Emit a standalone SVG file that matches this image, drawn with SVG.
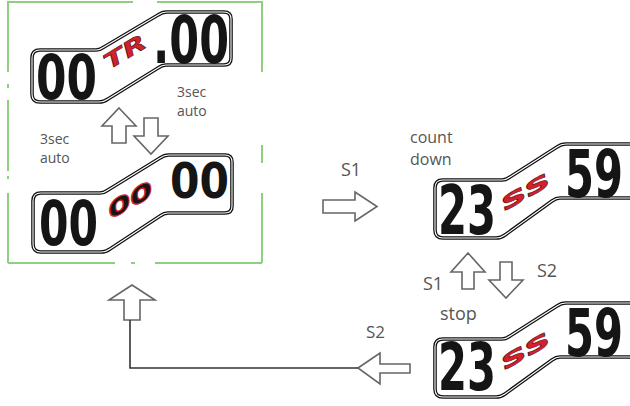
<svg xmlns="http://www.w3.org/2000/svg" width="630" height="406" viewBox="0 0 630 406">
<style>
.frame{stroke:#8fd07f;stroke-width:2;fill:none}
.lcdo{fill:#fff;stroke:#111;stroke-width:3.6;stroke-linejoin:round}
.lcdi{fill:none;stroke:#fff;stroke-width:1.1;stroke-linejoin:round}
.dig{font-family:"DejaVu Sans",sans-serif;font-weight:bold;fill:#151515}
.red{font-family:"DejaVu Sans",sans-serif;font-weight:bold;font-style:italic;fill:#d4202c;stroke:#3a0a0e;stroke-width:0.5}
.redo{font-family:"DejaVu Sans",sans-serif;font-weight:bold;fill:#161616;stroke:#d4202c;stroke-width:1.1}
.arr{fill:#fff;stroke:#666;stroke-width:1.6;stroke-linejoin:miter}
.lbl{font-family:"Open Sans",sans-serif;fill:#555}
.line{fill:none;stroke:#333;stroke-width:1.6}
</style>
<defs>
<path id="lcdC" d="M435,188 Q435,180 443,180 L502,180 Q506,180 510,177 L557,147 Q561,144 566,144 L640,144 L640,198 L560,198 Q556,198 552,201 L505,235 Q501,238 496,238 L443,238 Q435,238 435,230 Z"/>
</defs>
<g id="frame">
<path class="frame" d="M8,2 H133 M157,2 H262 M8,1 V72 M8,84 V88 M8,100 V171 M8,176 V179 M8,193 V263 M262,1 V72 M262,145 V163 M262,193 V263 M8,263 H115 M131,263 H135 M155,263 H262"/>
</g>
<g id="display-tr">
<path class="lcdo" d="M32,58 Q32,50 40,50 L96,50 Q100,50 104,47 L158,15 Q162,12 167,12 L224,12 Q231,12 231,19 L231,58 Q231,65 224,65 L166,65 Q162,65 158,68 L108,99 Q104,102 99,102 L40,102 Q32,102 32,94 Z"/>
<path class="lcdi" d="M32,58 Q32,50 40,50 L96,50 Q100,50 104,47 L158,15 Q162,12 167,12 L224,12 Q231,12 231,19 L231,58 Q231,65 224,65 L166,65 Q162,65 158,68 L108,99 Q104,102 99,102 L40,102 Q32,102 32,94 Z"/>
<text class="dig" font-size="62" transform="translate(36,99) scale(0.707,1)">00</text>
<text class="dig" font-size="66" transform="translate(153,63) scale(0.65,1)">.00</text>
<text class="red" x="109" y="70" font-size="21" textLength="46" lengthAdjust="spacingAndGlyphs" transform="rotate(-31 109 70)">TR</text>
</g>
<g id="display-oo">
<path class="lcdo" d="M33,201 Q33,193 41,193 L100,193 Q104,193 108,190 L160,158 Q164,155 169,155 L225,155 Q232,155 232,162 L232,206 Q232,213 225,213 L168,213 Q164,213 160,216 L110,249 Q106,252 101,252 L41,252 Q33,252 33,244 Z"/>
<path class="lcdi" d="M33,201 Q33,193 41,193 L100,193 Q104,193 108,190 L160,158 Q164,155 169,155 L225,155 Q232,155 232,162 L232,206 Q232,213 225,213 L168,213 Q164,213 160,216 L110,249 Q106,252 101,252 L41,252 Q33,252 33,244 Z"/>
<text class="dig" font-size="62" transform="translate(39,245) scale(0.684,1)">00</text>
<text class="dig" font-size="50" transform="translate(170,198) scale(0.848,1)">00</text>
<text class="redo" font-size="28" textLength="50" lengthAdjust="spacingAndGlyphs" transform="translate(109,220) rotate(-29) skewX(-25)">oo</text>
</g>
<g id="display-countdown">
<use href="#lcdC" class="lcdo"/>
<use href="#lcdC" class="lcdi"/>
<text class="dig" font-size="68" transform="translate(438,234) scale(0.613,1)">23</text>
<text class="dig" font-size="66" transform="translate(565,197) scale(0.631,1)">59</text>
<text class="red" x="505" y="211" font-size="24" textLength="54" lengthAdjust="spacingAndGlyphs" transform="rotate(-30 505 211)">ss</text>
</g>
<g id="display-stop">
<use href="#lcdC" class="lcdo" transform="translate(0,159)"/>
<use href="#lcdC" class="lcdi" transform="translate(0,159)"/>
<text class="dig" font-size="66" transform="translate(438,390) scale(0.631,1)">23</text>
<text class="dig" font-size="66" transform="translate(565,356) scale(0.631,1)">59</text>
<text class="red" x="505" y="370" font-size="24" textLength="54" lengthAdjust="spacingAndGlyphs" transform="rotate(-30 505 370)">ss</text>
</g>
<g id="connectors">
<path class="arr" d="M119,108 L136,126 L126,126 L126,143 L112,143 L112,126 L102,126 Z"/>
<path class="arr" d="M144,118 L158,118 L158,136 L168,136 L151,154 L134,136 L144,136 Z"/>
<path class="arr" d="M323,200 L355,200 L355,192 L377,206.5 L355,221 L355,213 L323,213 Z"/>
<path class="arr" d="M468,253 L485,272 L474,272 L474,289 L462,289 L462,272 L451,272 Z"/>
<path class="arr" d="M500,262 L512,262 L512,280 L523,280 L506,298 L489,280 L500,280 Z"/>
<path class="arr" d="M358,368 L380,353 L380,364 L410,364 L410,373 L380,373 L380,384 Z"/>
<path class="arr" d="M132,285 L155,300 L140,300 L140,320 L124,320 L124,300 L109,300 Z"/>
<path class="line" d="M358,368 H130 V320"/>
</g>
<g id="labels">
<text class="lbl" x="177" y="97" font-size="14">3sec</text>
<text class="lbl" x="177" y="116" font-size="14">auto</text>
<text class="lbl" x="40" y="144" font-size="14">3sec</text>
<text class="lbl" x="40" y="163" font-size="14">auto</text>
<text class="lbl" x="341" y="176" font-size="18">S1</text>
<text class="lbl" x="410" y="143" font-size="16">count</text>
<text class="lbl" x="410" y="165" font-size="16">down</text>
<text class="lbl" x="423" y="290" font-size="18">S1</text>
<text class="lbl" x="537" y="277" font-size="18">S2</text>
<text class="lbl" x="440" y="320" font-size="18">stop</text>
<text class="lbl" x="366" y="338" font-size="17">S2</text>
</g>
</svg>
